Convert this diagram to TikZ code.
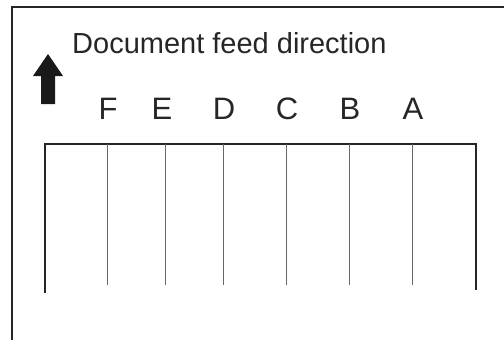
\documentclass[tikz,border=0pt]{standalone}
\usepackage{fontspec}
\setmainfont{Liberation Sans}
\begin{document}
\begin{tikzpicture}[x=1pt,y=-1pt,
  frame/.style={line width=1.3pt, draw=black!85},
  combmain/.style={line width=1.6pt, draw=black!85},
  tooth/.style={line width=1pt, draw=black!60},
  lbl/.style={font=\fontsize{31}{34}\selectfont, inner sep=0pt, anchor=base, text=black!85},
  title/.style={font=\fontsize{29}{32}\selectfont, inner sep=0pt, anchor=base west, text=black!85}]
\useasboundingbox (0,0) rectangle (504,340);
\draw[frame] (12,345) -- (12,7) -- (510,7);
\fill[black!90] (41,104) -- (41,76) -- (33,76) -- (48,54) -- (63,76) -- (55,76) -- (55,104) -- cycle;
\node[title] (t) at (72,53) {Document feed direction};
\node[lbl] (F) at (108,119) {F};
\node[lbl] (E) at (162,119) {E};
\node[lbl] (D) at (224,119) {D};
\node[lbl] (C) at (287,119) {C};
\node[lbl] (B) at (350,119) {B};
\node[lbl] (A) at (413,119) {A};
\draw[combmain] (45,293) -- (45,144) -- (476,144) -- (476,290);
\foreach \x in {107,165,223,286,349,412}
  \draw[tooth] (\x,144) -- (\x,285);
\end{tikzpicture}
\end{document}
